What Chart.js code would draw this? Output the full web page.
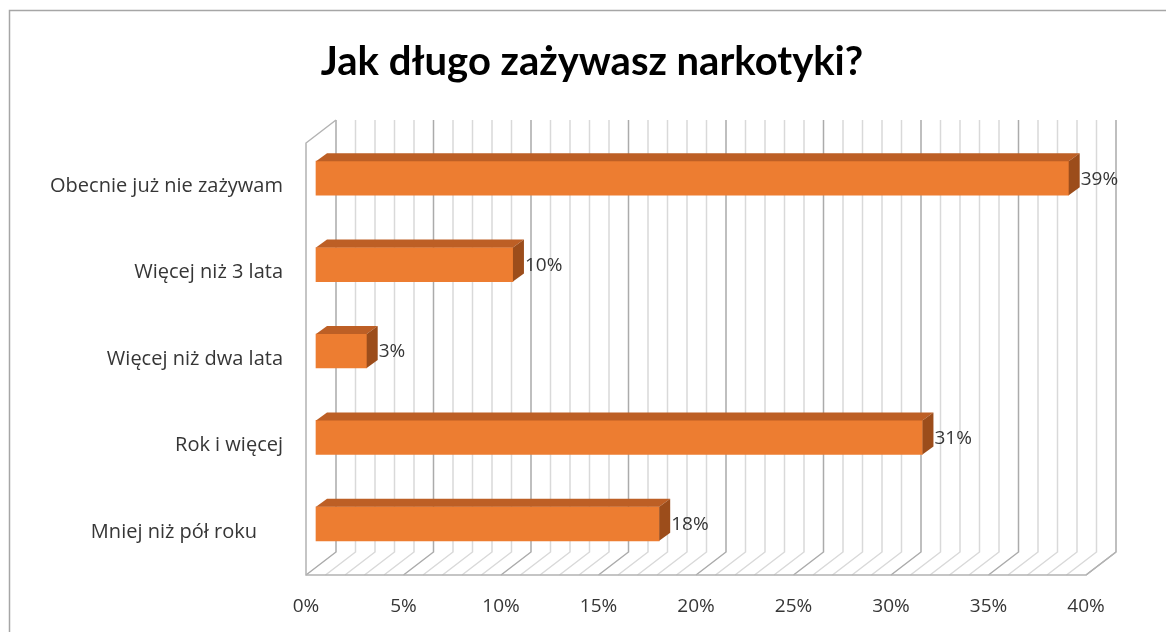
<!DOCTYPE html>
<html><head><meta charset="utf-8">
<script src="https://cdn.jsdelivr.net/npm/chart.js@4/dist/chart.umd.min.js"></script>
<style>html,body{margin:0;padding:0;background:#fff}canvas{display:block}</style>
</head><body>
<canvas id="c" width="1166" height="632"></canvas>
<script>
const chartTitle = 'Jak długo zażywasz narkotyki?';
const categories = ['Obecnie już nie zażywam', 'Więcej niż 3 lata', 'Więcej niż dwa lata', 'Rok i więcej', 'Mniej niż pół roku     '];
const shares = [38.6, 10.1, 2.6, 31.1, 17.6];
const axisMin = 0, axisMax = 40, axisStep = 5;

const DEPTH = {x: 30, y: -23};      // back wall offset
const BAR_SHIFT = {x: 10, y: -8};   // bars sit inside the depth
const BAR_DEPTH = {x: 11, y: -8};   // bar's own depth
const TXT = '#363636';
const LABEL_FONT = '19px "Open Sans", sans-serif';

const box3d = {
  id: 'box3d',
  beforeDraw(chart) {
    const ctx = chart.ctx;
    ctx.save();
    ctx.strokeStyle = '#a6a6a6';
    ctx.lineWidth = 1.5;
    ctx.strokeRect(9.5, 10.5, 1400, 900);
    ctx.font = 'bold 40px Lato, sans-serif';
    ctx.fillStyle = '#000';
    ctx.textAlign = 'center';
    ctx.textBaseline = 'alphabetic';
    ctx.fillText(chartTitle, 592, 75);
    ctx.restore();
  },
  beforeDatasetsDraw(chart) {
    const {ctx, chartArea: a, scales: {x}} = chart;
    ctx.save();
    ctx.lineWidth = 1.5;
    for (let v = x.min; v <= x.max; v++) {
      const fx = x.getPixelForValue(v);
      ctx.strokeStyle = v % 5 === 0 ? '#ababab' : '#d9d9d9';
      ctx.beginPath();
      ctx.moveTo(fx, a.bottom);
      ctx.lineTo(fx + DEPTH.x, a.bottom + DEPTH.y);
      ctx.lineTo(fx + DEPTH.x, a.top + DEPTH.y);
      ctx.stroke();
    }
    ctx.strokeStyle = '#b3b3b3';
    ctx.beginPath();
    ctx.moveTo(a.left + DEPTH.x, a.top + DEPTH.y);
    ctx.lineTo(a.left, a.top);
    ctx.lineTo(a.left, a.bottom);
    ctx.lineTo(a.right, a.bottom);
    ctx.lineTo(a.right + DEPTH.x, a.bottom + DEPTH.y);
    ctx.stroke();
    ctx.restore();
    ctx.save();
    ctx.translate(BAR_SHIFT.x, BAR_SHIFT.y);
  },
  afterDatasetsDraw(chart) {
    const ctx = chart.ctx;
    const meta = chart.getDatasetMeta(0);
    meta.data.forEach((bar, i) => {
      const p = bar.getProps(['x', 'y', 'base', 'height'], true);
      const t = p.y - p.height / 2, b = p.y + p.height / 2;
      ctx.fillStyle = '#bd5f25';
      ctx.beginPath();
      ctx.moveTo(p.base, t);
      ctx.lineTo(p.x, t);
      ctx.lineTo(p.x + BAR_DEPTH.x, t + BAR_DEPTH.y);
      ctx.lineTo(p.base + BAR_DEPTH.x, t + BAR_DEPTH.y);
      ctx.closePath();
      ctx.fill();
      ctx.fillStyle = '#9c4d1b';
      ctx.beginPath();
      ctx.moveTo(p.x, t);
      ctx.lineTo(p.x + BAR_DEPTH.x, t + BAR_DEPTH.y);
      ctx.lineTo(p.x + BAR_DEPTH.x, b + BAR_DEPTH.y);
      ctx.lineTo(p.x, b);
      ctx.closePath();
      ctx.fill();
      ctx.font = LABEL_FONT;
      ctx.fillStyle = TXT;
      ctx.textAlign = 'left';
      ctx.textBaseline = 'middle';
      ctx.fillText(Math.round(shares[i]) + '%', p.x + BAR_DEPTH.x + 1, p.y + 1);
    });
    ctx.restore();
  }
};

new Chart(document.getElementById('c'), {
  type: 'bar',
  data: {
    labels: categories,
    datasets: [{
      data: shares,
      backgroundColor: '#ed7d31',
      barThickness: 34,
      clip: false
    }]
  },
  options: {
    indexAxis: 'y',
    responsive: false,
    animation: false,
    devicePixelRatio: 1,
    layout: {padding: {left: 0, right: 80, top: 143, bottom: 0}},
    plugins: {legend: {display: false}, title: {display: false}, tooltip: {enabled: false}},
    scales: {
      x: {
        min: axisMin, max: axisMax,
        grid: {display: false, drawTicks: false},
        border: {display: false},
        ticks: {stepSize: axisStep, padding: 20, color: TXT, font: {family: '"Open Sans", sans-serif', size: 19}, callback: v => v + '%'},
        afterFit(s) { s.height = 57; }
      },
      y: {
        grid: {display: false, drawTicks: false},
        border: {display: false},
        ticks: {padding: 23, color: TXT, font: {family: '"Open Sans", sans-serif', size: 20}},
        afterFit(s) { s.width = 306; }
      }
    }
  },
  plugins: [box3d]
});
</script>
</body></html>
